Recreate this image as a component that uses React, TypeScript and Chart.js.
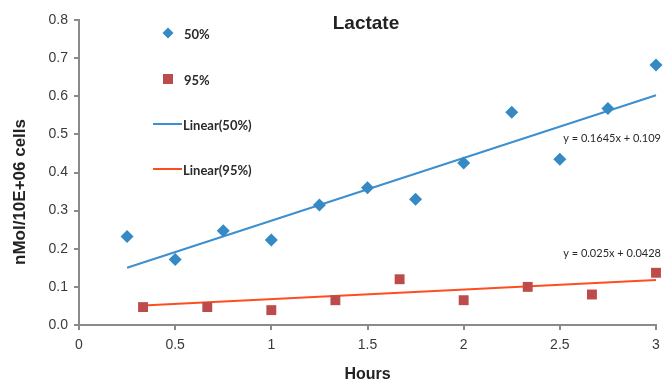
import React, { useEffect, useRef } from "react";
import { Chart, registerables } from "chart.js";

Chart.register(...registerables);

const chartTitle = "Lactate";
const xTitle = "Hours";
const yTitle = "nMol/10E+06 cells";

const hours50 = [0.25, 0.5, 0.75, 1.0, 1.25, 1.5, 1.75, 2.0, 2.25, 2.5, 2.75, 3.0];
const values50 = [0.232, 0.172, 0.247, 0.223, 0.315, 0.36, 0.33, 0.425, 0.558, 0.435, 0.568, 0.682];

const hours95 = [0.333, 0.667, 1.0, 1.333, 1.667, 2.0, 2.333, 2.667, 3.0];
const values95 = [0.047, 0.047, 0.039, 0.065, 0.12, 0.065, 0.1, 0.08, 0.137];

const trend50X = [0.25, 3.0];
const trend50Y = [0.15, 0.6025];
const trend95X = [0.333, 3.0];
const trend95Y = [0.0511, 0.1178];

const eq50 = "y = 0.1645x + 0.109";
const eq95 = "y = 0.025x + 0.0428";

const seriesLabels = ["50%", "95%", "Linear(50%)", "Linear(95%)"];

const BLUE = "#3589c4";
const BLUE_LINE = "#3d8fcf";
const RED = "#be4b4b";
const RED_LINE = "#ff4d21";
const AXIS = "#8a8a8a";
const TEXT = "#2a2a2a";
const FONT = "'Liberation Sans', Arial, sans-serif";
const LEGEND_FONT = "Lato, 'Open Sans', sans-serif";

const toPoints = (xs: number[], ys: number[]) => xs.map((x, i) => ({ x, y: ys[i] }));

const overlayPlugin = {
  id: "overlay",
  afterDatasetsDraw(chart: any) {
    const { ctx, scales } = chart;
    ctx.save();
    // title
    ctx.fillStyle = "#222";
    ctx.font = `bold 19px ${FONT}`;
    ctx.textAlign = "center";
    ctx.textBaseline = "middle";
    ctx.fillText(chartTitle, 366, 24);

    // y axis title
    ctx.save();
    ctx.translate(20, 192);
    ctx.rotate(-Math.PI / 2);
    ctx.font = `bold 17px ${FONT}`;
    ctx.fillText(yTitle, 0, 0);
    ctx.restore();

    // legend
    const ds = chart.data.datasets;
    const mx = 168;
    const tx = 184;
    const rows = [33, 79, 124, 169];
    ctx.font = `bold 13px ${LEGEND_FONT}`;
    ctx.textAlign = "left";
    ctx.textBaseline = "middle";
    // diamond
    ctx.fillStyle = ds[0].backgroundColor;
    ctx.beginPath();
    ctx.moveTo(mx, rows[0] - 5.5);
    ctx.lineTo(mx + 5.5, rows[0]);
    ctx.lineTo(mx, rows[0] + 5.5);
    ctx.lineTo(mx - 5.5, rows[0]);
    ctx.closePath();
    ctx.fill();
    ctx.fillStyle = TEXT;
    ctx.fillText(ds[0].label, tx, rows[0] + 2);
    // square
    ctx.fillStyle = ds[1].backgroundColor;
    ctx.fillRect(mx - 5, rows[1] - 5, 10, 10);
    ctx.fillStyle = TEXT;
    ctx.fillText(ds[1].label, tx, rows[1] + 2);
    // lines
    for (let i = 2; i < 4; i++) {
      ctx.strokeStyle = ds[i].borderColor;
      ctx.lineWidth = 2;
      ctx.beginPath();
      ctx.moveTo(153, rows[i]);
      ctx.lineTo(182, rows[i]);
      ctx.stroke();
      ctx.fillStyle = TEXT;
      ctx.fillText(ds[i].label, 183, rows[i] + 2);
    }

    // equations
    ctx.font = `11px ${LEGEND_FONT}`;
    ctx.textAlign = "right";
    ctx.fillStyle = TEXT;
    ctx.fillText(eq50, 661, scales.y.getPixelForValue(0.49));
    ctx.fillText(eq95, 661, scales.y.getPixelForValue(0.188));
    ctx.restore();
  },
};

export default function App() {
  const ref = useRef<HTMLCanvasElement | null>(null);

  useEffect(() => {
    document.body.style.margin = "0";
    const canvas = ref.current;
    if (!canvas) return;
    const chart = new Chart(canvas, {
      type: "scatter",
      data: {
        datasets: [
          {
            label: seriesLabels[0],
            data: toPoints(hours50, values50),
            pointStyle: "rectRot",
            pointRadius: 6.5,
            backgroundColor: BLUE,
            borderColor: BLUE,
            borderWidth: 0,
            clip: false,
          } as any,
          {
            label: seriesLabels[1],
            data: toPoints(hours95, values95),
            pointStyle: "rect",
            pointRadius: 7,
            backgroundColor: RED,
            borderColor: RED,
            borderWidth: 0,
            clip: false,
          },
          {
            type: "line",
            label: seriesLabels[2],
            data: toPoints(trend50X, trend50Y),
            borderColor: BLUE_LINE,
            backgroundColor: BLUE_LINE,
            borderWidth: 2,
            pointRadius: 0,
            showLine: true,
            clip: false,
          },
          {
            type: "line",
            label: seriesLabels[3],
            data: toPoints(trend95X, trend95Y),
            borderColor: RED_LINE,
            backgroundColor: RED_LINE,
            borderWidth: 2,
            pointRadius: 0,
            showLine: true,
            clip: false,
          },
        ] as any,
      },
      options: {
        responsive: false,
        animation: false,
        layout: { padding: { top: 20, right: -2, left: 0, bottom: 0 } },
        plugins: {
          legend: { display: false },
          title: { display: false },
          tooltip: { enabled: false },
        },
        scales: {
          x: {
            type: "linear",
            min: 0,
            max: 3,
            ticks: {
              stepSize: 0.5,
              color: "#3a3a3a",
              font: { family: FONT, size: 14 },
              padding: 7,
              callback: (v: any) => String(Number(v)),
            },
            grid: {
              display: true,
              drawOnChartArea: false,
              drawTicks: true,
              tickLength: 5,
              color: AXIS,
              lineWidth: 2,
            },
            border: { display: true, color: AXIS, width: 2 },
            title: {
              display: true,
              text: xTitle,
              color: "#222",
              font: { family: FONT, size: 16, weight: "bold" },
              padding: { top: 0, bottom: 0 },
            },
            afterFit: (scale: any) => {
              scale.height = 59;
              scale.paddingRight = 0;
              scale.paddingLeft = 0;
            },
          },
          y: {
            type: "linear",
            min: 0,
            max: 0.8,
            ticks: {
              stepSize: 0.1,
              color: "#3a3a3a",
              font: { family: FONT, size: 14 },
              padding: 6,
              callback: (v: any) => Number(v).toFixed(1),
            },
            grid: {
              display: true,
              drawOnChartArea: false,
              drawTicks: true,
              tickLength: 5,
              color: AXIS,
              lineWidth: 2,
            },
            border: { display: true, color: AXIS, width: 2 },
            title: { display: false },
            afterFit: (scale: any) => {
              scale.width = 79;
            },
          },
        },
      } as any,
      plugins: [overlayPlugin],
    });
    return () => chart.destroy();
  }, []);

  return (
    <div style={{ position: "absolute", left: 0, top: 0, width: 663, height: 384, background: "#fff" }}>
      <canvas ref={ref} width={663} height={384} style={{ display: "block" }} />
    </div>
  );
}
